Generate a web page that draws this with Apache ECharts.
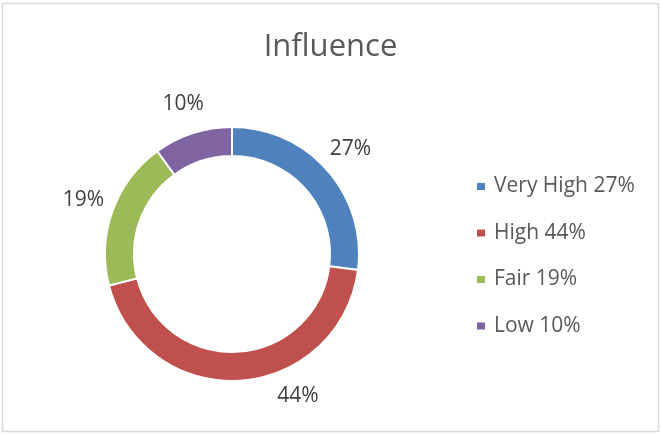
<!DOCTYPE html>
<html>
<head>
<meta charset="utf-8">
<script src="https://cdn.jsdelivr.net/npm/echarts@6/dist/echarts.min.js"></script>
<style>
html,body{margin:0;padding:0;background:#fff;}
#c{width:661px;height:435px;}
</style>
</head>
<body>
<div id="c"></div>
<script>
var titleText = "Influence";
var categories = ["Very High", "High", "Fair", "Low"];
var values = [27, 44, 19, 10];
var colors = ["#4F81BD", "#C0504D", "#9BBB59", "#8064A2"];

var total = values.reduce(function (a, b) { return a + b; }, 0);
function pct(v) { return Math.round(v / total * 100) + "%"; }
var pieData = categories.map(function (c, i) { return { name: c, value: values[i] }; });
var FONT = "'Open Sans', Lato, sans-serif";

var chart = echarts.init(document.getElementById('c'), null, { renderer: 'canvas' });
chart.setOption({
  animation: false,
  color: colors,
  graphic: [{
    type: 'rect', silent: true,
    shape: { x: 2.5, y: 3.5, width: 656, height: 428 },
    style: { fill: 'none', stroke: '#d9d9d9', lineWidth: 1.5 }
  }],
  title: {
    text: titleText, left: 'center', top: 27,
    textStyle: { fontFamily: FONT, fontSize: 31, fontWeight: 'normal', color: '#595959' }
  },
  legend: {
    orient: 'vertical', left: 475, top: 176, padding: 0,
    icon: 'rect', itemWidth: 10, itemHeight: 9, itemGap: 25.5,
    data: categories,
    formatter: function (name) { return name + ' ' + pct(values[categories.indexOf(name)]); },
    textStyle: { fontFamily: FONT, fontSize: 21, lineHeight: 20, color: '#595959', padding: [0, 0, 0, 3] }
  },
  series: [{
    type: 'pie', center: [232, 254], radius: [98, 127],
    startAngle: 90, clockwise: true, silent: true,
    itemStyle: { borderColor: '#fff', borderWidth: 2 },
    label: { show: false }, labelLine: { show: false },
    data: pieData
  }, {
    type: 'pie', center: [232, 254], radius: [150, 160],
    startAngle: 90, clockwise: true, silent: true,
    itemStyle: { color: 'transparent' },
    label: {
      show: true, position: 'inside',
      formatter: function (p) { return pct(p.value); },
      fontFamily: FONT, fontSize: 21, color: '#404040'
    },
    labelLine: { show: false },
    labelLayout: function (p) { return p.dataIndex === 1 ? { dx: 56, dy: -16 } : {}; },
    data: pieData
  }]
});
</script>
</body>
</html>
